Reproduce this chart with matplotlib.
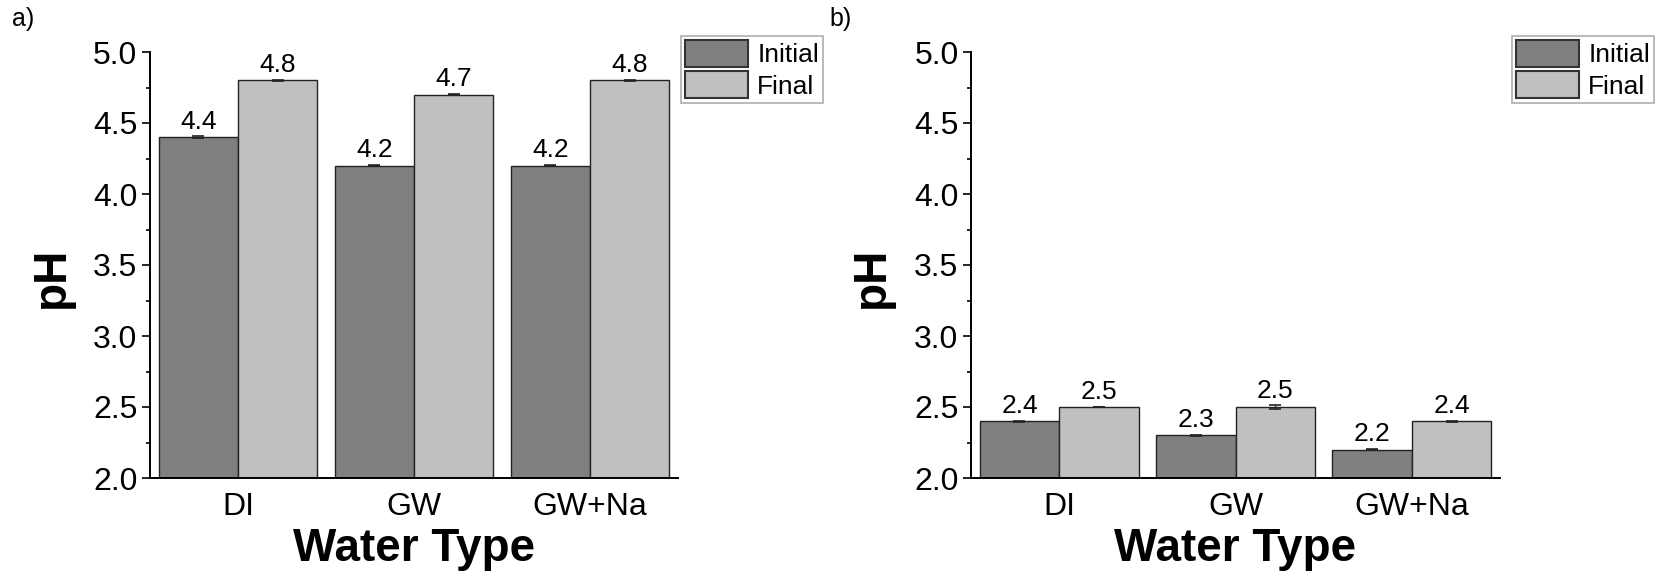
import matplotlib
matplotlib.use("Agg")
import matplotlib.pyplot as plt
import numpy as np
from matplotlib.ticker import MultipleLocator

plt.rcParams['font.family'] = ['Liberation Sans', 'DejaVu Sans']

water_types = ['DI', 'GW', 'GW+Na']
series = ['Initial', 'Final']

# panel a
ph_init_a = [4.4, 4.2, 4.2]
ph_final_a = [4.8, 4.7, 4.8]
err_init_a = [0.005, 0.003, 0.003]
err_final_a = [0.006, 0.004, 0.003]

# panel b
ph_init_b = [2.4, 2.3, 2.2]
ph_final_b = [2.5, 2.5, 2.4]
err_init_b = [0.003, 0.003, 0.003]
err_final_b = [0.003, 0.012, 0.004]

c_init = '#808080'
c_final = '#c0c0c0'

W, H = 1661, 581
fig = plt.figure(figsize=(W / 100, H / 100), dpi=100)

def px_axes(left, right, top, bottom):
    return fig.add_axes([left / W, 1 - bottom / H, (right - left) / W, (bottom - top) / H])

def draw(ax, init, final, e_init, e_final, legend_right):
    x = np.arange(len(water_types))
    w = 0.45
    b1 = ax.bar(x - w / 2, np.array(init) - 2.0, w, bottom=2.0, color=c_init,
                edgecolor='#222222', linewidth=1.0, label=series[0],
                yerr=e_init, capsize=4, error_kw=dict(elinewidth=1, capthick=1.2, ecolor='#222222'))
    b2 = ax.bar(x + w / 2, np.array(final) - 2.0, w, bottom=2.0, color=c_final,
                edgecolor='#222222', linewidth=1.0, label=series[1],
                yerr=e_final, capsize=4, error_kw=dict(elinewidth=1, capthick=1.2, ecolor='#222222'))
    ax.bar_label(b1, labels=[f'{v:.1f}' for v in init], padding=2, fontsize=19)
    ax.bar_label(b2, labels=[f'{v:.1f}' for v in final], padding=2, fontsize=19)

    ax.set_xlim(-0.5, 2.5)
    ax.set_ylim(2.0, 5.0)
    ax.yaxis.set_major_locator(MultipleLocator(0.5))
    ax.yaxis.set_minor_locator(MultipleLocator(0.25))
    ax.set_xticks(x)
    ax.set_xticklabels(water_types)
    ax.tick_params(axis='x', length=0, pad=10, labelsize=23)
    ax.tick_params(axis='y', which='major', length=6, width=1.2, pad=3, labelsize=23)
    ax.tick_params(axis='y', which='minor', length=3, width=1.2)
    for s in ['top', 'right']:
        ax.spines[s].set_visible(False)
    for s in ['left', 'bottom']:
        ax.spines[s].set_linewidth(1.4)
    ax.spines['bottom'].set_zorder(5)

    ax.set_ylabel('pH', fontsize=33, fontweight='bold')
    ax.yaxis.set_label_coords(-0.145, 0.47)
    ax.set_xlabel('Water Type', fontsize=33, fontweight='bold')
    ax.xaxis.set_label_coords(0.5, -0.115)

    leg = ax.legend(loc='upper right', bbox_to_anchor=(legend_right / W, 1 - 36 / H),
                    bbox_transform=fig.transFigure, fontsize=19, frameon=True,
                    fancybox=False, borderpad=0.15, labelspacing=0.15,
                    handlelength=2.4, handleheight=1.2, handletextpad=0.35,
                    borderaxespad=0)
    leg.get_frame().set_edgecolor('#999999')
    leg.get_frame().set_linewidth(1.2)
    for p in leg.get_patches():
        p.set_edgecolor('#333333')
        p.set_linewidth(1.5)

ax_a = px_axes(150, 678, 52, 478)
draw(ax_a, ph_init_a, ph_final_a, err_init_a, err_final_a, 823)
ax_b = px_axes(971, 1500, 52, 478)
draw(ax_b, ph_init_b, ph_final_b, err_init_b, err_final_b, 1654)

fig.text(12 / W, 1 - 7 / H, 'a)', fontsize=18, va='top', ha='left')
fig.text(829 / W, 1 - 7 / H, 'b)', fontsize=18, va='top', ha='left')

fig.savefig('out.png', dpi=100)
